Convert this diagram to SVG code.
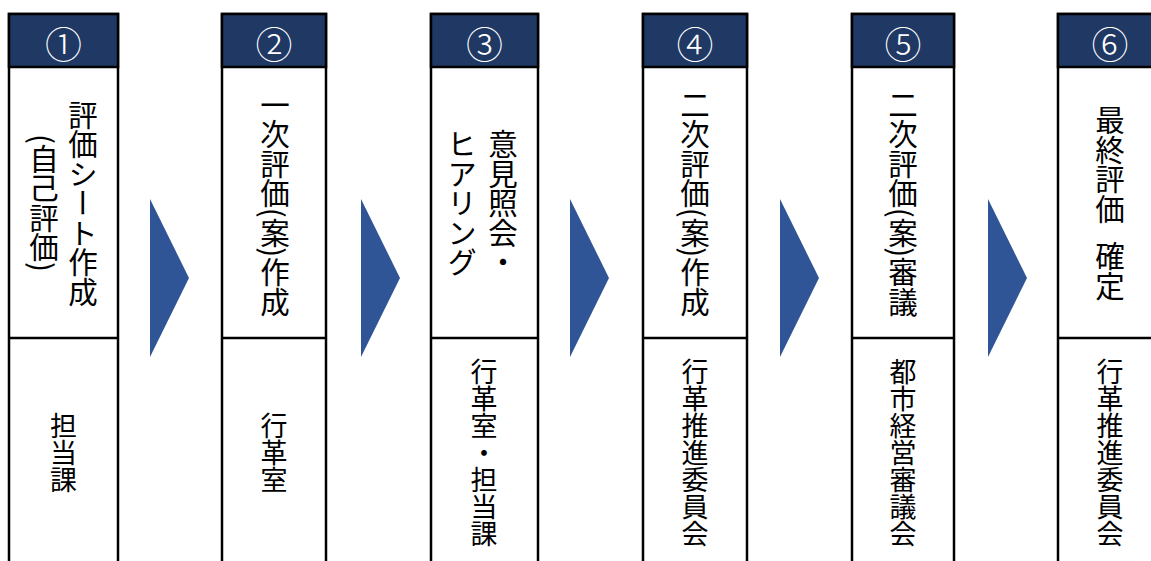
<svg xmlns="http://www.w3.org/2000/svg" width="1151" height="561" viewBox="0 0 1151 561">
<style>
.box{fill:#fff;stroke:#000;stroke-width:2.5}
.hdr{fill:#203864;stroke:#000;stroke-width:2.5}
.ln{stroke:#000;stroke-width:2.5}
.num{fill:#fff;font-family:"Noto Sans CJK JP","Noto Sans CJK SC",sans-serif;font-size:37px;font-weight:300;text-anchor:middle;dominant-baseline:central}
.vt{fill:#000;font-family:"Noto Sans CJK JP","Noto Sans CJK SC",sans-serif;font-size:29.5px;writing-mode:vertical-rl;text-anchor:middle}
.vb{fill:#000;font-family:"Noto Sans CJK JP","Noto Sans CJK SC",sans-serif;font-size:27px;writing-mode:vertical-rl;text-anchor:middle}
.arr{fill:#2F5597}
</style>
<g id="connectors">
<polygon class="arr" points="150,199 189,278 150,357"/>
<polygon class="arr" points="361,199 400,278 361,357"/>
<polygon class="arr" points="570,199 609,278 570,357"/>
<polygon class="arr" points="780,199 819,278 780,357"/>
<polygon class="arr" points="988,199 1027,278 988,357"/>
</g>
<g id="step1">
<rect class="box" x="9" y="14" width="109" height="560"/>
<rect class="hdr" x="9" y="14" width="109" height="53"/>
<line class="ln" x1="9" y1="338" x2="118" y2="338"/>
<text class="num" x="63.5" y="43">①</text>
<text class="vt" x="83" y="203">評価シート作成</text>
<text class="vt" x="44" y="203">(自己評価)</text>
<text class="vb" x="63.5" y="453">担当課</text>
</g>
<g id="step2">
<rect class="box" x="222" y="14" width="104" height="560"/>
<rect class="hdr" x="222" y="14" width="104" height="53"/>
<line class="ln" x1="222" y1="338" x2="326" y2="338"/>
<text class="num" x="274" y="43">②</text>
<text class="vt" x="275" y="203">一次評価(案)作成</text>
<text class="vb" x="274" y="453">行革室</text>
</g>
<g id="step3">
<rect class="box" x="431" y="14" width="107" height="560"/>
<rect class="hdr" x="431" y="14" width="107" height="53"/>
<line class="ln" x1="431" y1="338" x2="538" y2="338"/>
<text class="num" x="484.5" y="43">③</text>
<text class="vt" x="503" y="203">意見照会・</text>
<text class="vt" x="462" y="203">ヒアリング</text>
<text class="vb" x="484" y="453">行革室・担当課</text>
</g>
<g id="step4">
<rect class="box" x="643" y="14" width="104" height="560"/>
<rect class="hdr" x="643" y="14" width="104" height="53"/>
<line class="ln" x1="643" y1="338" x2="747" y2="338"/>
<text class="num" x="695" y="43">④</text>
<text class="vt" x="695" y="203">二次評価(案)作成</text>
<text class="vb" x="695" y="453">行革推進委員会</text>
</g>
<g id="step5">
<rect class="box" x="852" y="14" width="102" height="560"/>
<rect class="hdr" x="852" y="14" width="102" height="53"/>
<line class="ln" x1="852" y1="338" x2="954" y2="338"/>
<text class="num" x="903" y="43">⑤</text>
<text class="vt" x="903" y="203">二次評価(案)審議</text>
<text class="vb" x="903" y="453">都市経営審議会</text>
</g>
<g id="step6">
<rect class="box" x="1058" y="14" width="106" height="560"/>
<rect class="hdr" x="1058" y="14" width="106" height="53"/>
<line class="ln" x1="1058" y1="338" x2="1164" y2="338"/>
<text class="num" x="1110" y="43">⑥</text>
<text class="vt" x="1110" y="203">最終評価<tspan font-size="18">　</tspan>確定</text>
<text class="vb" x="1110" y="453">行革推進委員会</text>
</g>
</svg>
